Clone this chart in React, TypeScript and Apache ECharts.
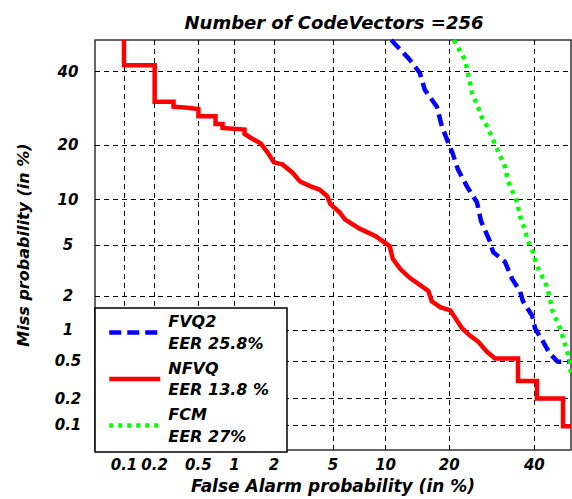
import React, { useEffect, useRef } from "react";
import * as echarts from "echarts";

// DET curves: (false alarm %, miss %) corner points
const fvq2Points: [number, number][] = [
  [10.7, 50], [13.3, 43.6], [14.8, 39.6], [15.6, 34.5], [17.7, 29.6], [18.6, 24.4],
  [19.8, 20.5], [20.6, 18.3], [21.7, 15.0], [23.6, 12.0], [25.8, 9.6], [26.7, 7.3],
  [28.8, 5.25], [29.5, 4.45], [32.4, 3.75], [34.2, 2.76], [36.2, 2.2], [37.0, 1.8],
  [39.4, 1.35], [40.2, 1.03], [42.3, 0.78], [44.2, 0.59], [46.4, 0.49], [50, 0.49],
];

const nfvqPoints: [number, number][] = [
  [0.1, 50], [0.1, 42], [0.2, 42], [0.2, 31], [0.3, 31], [0.3, 29.6], [0.4, 29.3],
  [0.5, 29], [0.5, 27], [0.7, 27], [0.7, 25], [0.8, 25], [0.8, 24], [1.2, 23.6],
  [1.2, 22.6], [1.33, 21.7], [1.6, 20.3], [1.8, 18.3], [2.0, 16.3], [2.3, 15.9],
  [2.7, 14.4], [3.05, 12.8], [3.6, 12.0], [4.1, 11.5], [4.6, 10.5], [4.8, 9.4],
  [5.5, 8.3], [5.9, 7.5], [7.2, 6.5], [8.8, 5.8], [10.5, 4.9], [10.9, 3.95],
  [11.9, 3.3], [13.3, 2.8], [16.2, 2.2], [16.8, 1.8], [18.3, 1.6], [20.2, 1.5],
  [21.1, 1.3], [22.6, 1.03], [24.3, 0.88], [26, 0.78], [28, 0.62], [30, 0.53],
  [35.7, 0.53], [35.7, 0.31], [40.7, 0.31], [40.7, 0.2], [47.8, 0.2], [47.8, 0.097],
  [50, 0.097],
];

const fcmPoints: [number, number][] = [
  [20.9, 50], [23.2, 43.6], [23.8, 39.6], [24.7, 33.6], [26.0, 29.6], [26.9, 26.7],
  [28.1, 24.4], [29.5, 21.2], [30.5, 19.0], [32.4, 15.5], [33.2, 12.8], [34.4, 11.1],
  [35.5, 9.65], [36.2, 7.9], [37.5, 6.45], [38.1, 5.5], [39.6, 4.45], [40.7, 3.5],
  [43.4, 2.4], [44.2, 1.9], [45.0, 1.46], [47.0, 1.03], [48.3, 0.74], [49.7, 0.5],
  [50, 0.37],
];

const seriesNames = ["FVQ2", "NFVQ", "FCM"];
const eerLabels = ["EER 25.8%", "EER 13.8 %", "EER 27%"];

const xTicks = [0.1, 0.2, 0.5, 1, 2, 5, 10, 20, 40];
const xTickLabels = ["0.1", "0.2", "0.5", "1", "2", "5", "10", "20", "40"];
const yTicks = [0.1, 0.2, 0.5, 1, 2, 5, 10, 20, 40];
const yTickLabels = ["0.1", "0.2", "0.5", "1", "2", "5", "10", "20", "40"];

const axisMinPct = 0.05;
const axisMaxPct = 50;

// Inverse of the standard normal CDF (Acklam's rational approximation)
function probit(p: number): number {
  const a = [-3.969683028665376e1, 2.209460984245205e2, -2.759285104469687e2, 1.38357751867269e2, -3.066479806614716e1, 2.506628277459239];
  const b = [-5.447609879822406e1, 1.615858368580409e2, -1.556989798598866e2, 6.680131188771972e1, -1.328068155288572e1];
  const c = [-7.784894002430293e-3, -3.223964580411365e-1, -2.400758277161838, -2.549671348554263, 4.374664141464968, 2.938163982698783];
  const d = [7.784695709041462e-3, 3.224671290700398e-1, 2.445134137142996, 3.754408661907416];
  const pLow = 0.02425;
  if (p < pLow) {
    const q = Math.sqrt(-2 * Math.log(p));
    return (((((c[0] * q + c[1]) * q + c[2]) * q + c[3]) * q + c[4]) * q + c[5]) /
      ((((d[0] * q + d[1]) * q + d[2]) * q + d[3]) * q + 1);
  }
  if (p <= 1 - pLow) {
    const q = p - 0.5;
    const r = q * q;
    return ((((((a[0] * r + a[1]) * r + a[2]) * r + a[3]) * r + a[4]) * r + a[5]) * q) /
      (((((b[0] * r + b[1]) * r + b[2]) * r + b[3]) * r + b[4]) * r + 1);
  }
  const q = Math.sqrt(-2 * Math.log(1 - p));
  return -(((((c[0] * q + c[1]) * q + c[2]) * q + c[3]) * q + c[4]) * q + c[5]) /
    ((((d[0] * q + d[1]) * q + d[2]) * q + d[3]) * q + 1);
}

const toDeviate = (pts: [number, number][]) =>
  pts.map(([fa, miss]) => [probit(fa / 100), probit(miss / 100)]);

const labelFor = (ticks: number[], labels: string[]) => (value: number) => {
  let best = 0;
  let bestDist = Infinity;
  ticks.forEach((t, i) => {
    const dist = Math.abs(probit(t / 100) - value);
    if (dist < bestDist) {
      bestDist = dist;
      best = i;
    }
  });
  return labels[best];
};

const FONT = "DejaVu Sans";
const LINE_W = 4.5;

export default function App() {
  const ref = useRef<HTMLDivElement>(null);

  useEffect(() => {
    if (!ref.current) return;
    const chart = echarts.init(ref.current, undefined, { renderer: "svg" });

    const gridLine = { show: true, lineStyle: { color: "#000", width: 1, type: [5, 4] as number[] } };
    const tickFont = { fontFamily: FONT, fontSize: 15, fontStyle: "italic" as const, fontWeight: "bold" as const, color: "#000" };

    chart.setOption({
      animation: false,
      backgroundColor: "#fff",
      grid: { left: 95, top: 40, width: 476, height: 412, show: true, borderColor: "#333", borderWidth: 1.5, backgroundColor: "transparent" },
      xAxis: {
        type: "value",
        min: probit(axisMinPct / 100),
        max: probit(axisMaxPct / 100),
        axisLine: { show: false },
        axisTick: { show: false, customValues: xTicks.map((t) => probit(t / 100)) },
        splitLine: gridLine,
        axisLabel: {
          ...tickFont,
          margin: 7,
          customValues: xTicks.map((t) => probit(t / 100)),
          formatter: labelFor(xTicks, xTickLabels),
        },
        name: "False Alarm probability (in %)",
        nameLocation: "middle",
        nameGap: 27,
        nameTextStyle: { fontFamily: FONT, fontSize: 17, fontStyle: "italic", fontWeight: "bold", color: "#000" },
      },
      yAxis: {
        type: "value",
        min: probit(axisMinPct / 100),
        max: probit(axisMaxPct / 100),
        axisLine: { show: false },
        axisTick: { show: false, customValues: yTicks.map((t) => probit(t / 100)) },
        splitLine: gridLine,
        axisLabel: {
          ...tickFont,
          margin: 27,
          align: "center",
          customValues: yTicks.map((t) => probit(t / 100)),
          formatter: labelFor(yTicks, yTickLabels),
        },
        name: "Miss probability (in %)",
        nameLocation: "middle",
        nameRotate: 90,
        nameGap: 64,
        nameTextStyle: { fontFamily: FONT, fontSize: 16, fontStyle: "italic", fontWeight: "bold", color: "#000" },
      },
      legend: {
        data: seriesNames,
        orient: "vertical",
        left: 107,
        top: 311,
        padding: 0,
        itemWidth: 51,
        itemHeight: 4,
        itemGap: 3.5,
        selectedMode: false,
        z: 6,
        itemStyle: { opacity: 0 },
        lineStyle: { width: LINE_W },
        formatter: (name: string) => `${name}\n${eerLabels[seriesNames.indexOf(name)]}`,
        textStyle: { fontFamily: FONT, fontSize: 16, fontStyle: "italic", fontWeight: "bold", color: "#000", lineHeight: 21.5, padding: [0, 0, 0, 3] },
      },
      graphic: [
        {
          type: "rect",
          z: 5,
          shape: { x: 95, y: 308, width: 192, height: 144 },
          style: { fill: "#fff", stroke: "#000", lineWidth: 1.5 },
        },
        {
          type: "text",
          x: 334,
          y: 22,
          style: {
            text: "Number of CodeVectors =256",
            fontFamily: FONT,
            fontSize: 18,
            fontStyle: "italic",
            fontWeight: "bold",
            fill: "#000",
            align: "center",
            verticalAlign: "middle",
          },
        },
      ],
      series: [
        {
          name: seriesNames[0],
          type: "line",
          data: toDeviate(fvq2Points),
          symbol: "none",
          color: "#0000ff",
          lineStyle: { color: "#0000ff", width: LINE_W, type: [12, 6], cap: "butt" },
        },
        {
          name: seriesNames[1],
          type: "line",
          data: toDeviate(nfvqPoints),
          symbol: "none",
          color: "#ff0000",
          lineStyle: { color: "#ff0000", width: LINE_W, type: "solid", cap: "butt", join: "miter" },
        },
        {
          name: seriesNames[2],
          type: "line",
          data: toDeviate(fcmPoints),
          symbol: "none",
          color: "#00ff00",
          lineStyle: { color: "#00ff00", width: LINE_W, type: [4, 5], cap: "butt" },
        },
      ],
    });

    return () => chart.dispose();
  }, []);

  return <div ref={ref} style={{ position: "fixed", left: 0, top: 0, width: 572, height: 499 }} />;
}
